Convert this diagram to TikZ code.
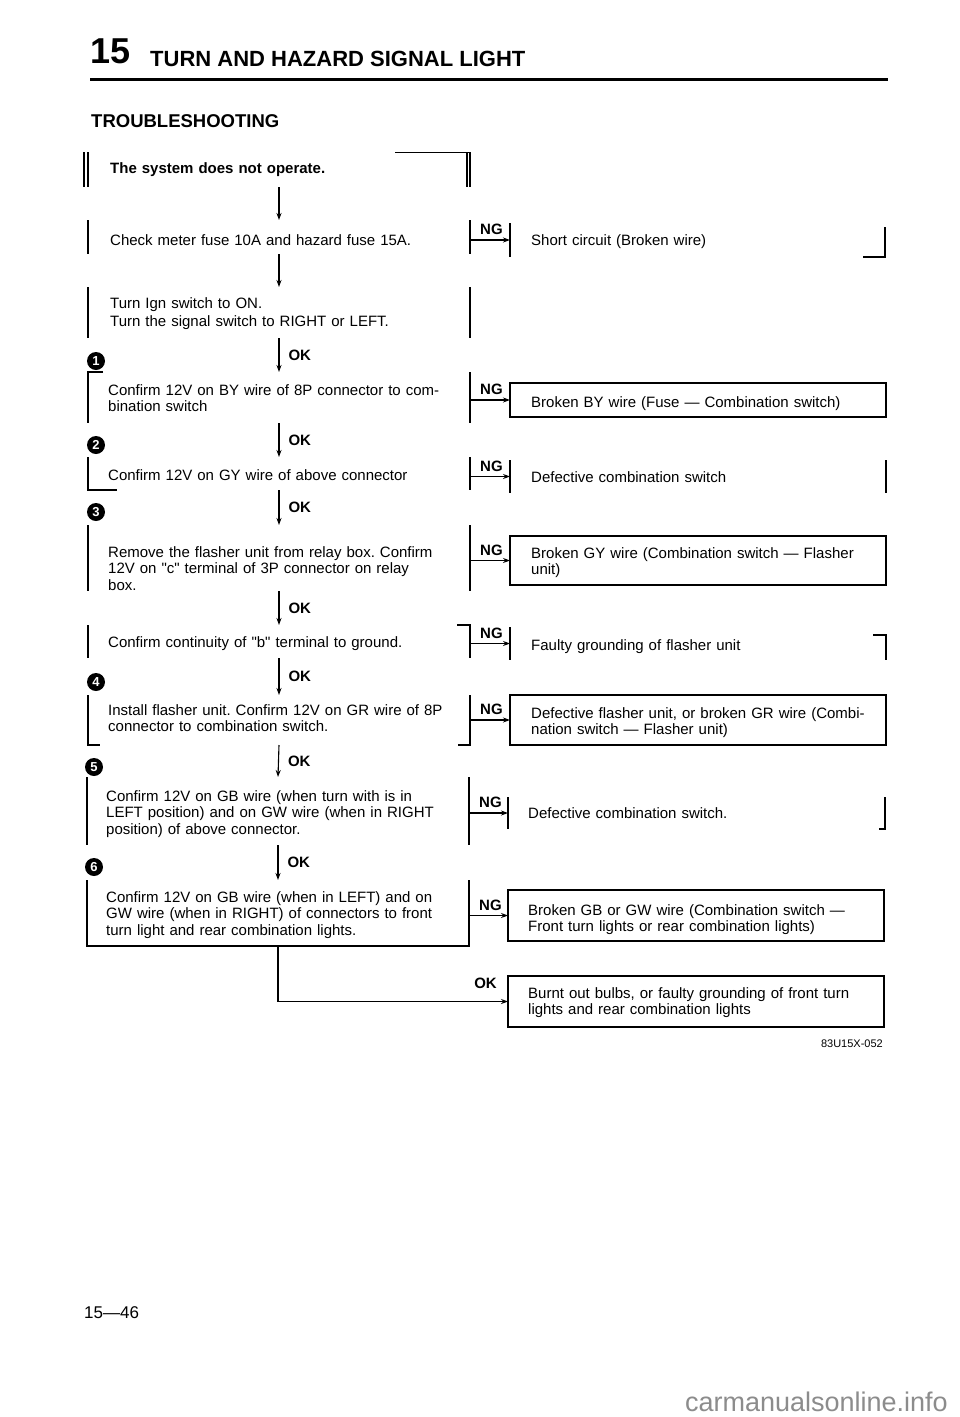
\documentclass[tikz,border=0pt]{standalone}
\usepackage{fontspec}
\setmainfont{Liberation Sans}
\usetikzlibrary{arrows.meta}
\frenchspacing
\begin{document}
\begin{tikzpicture}[x=1pt,y=-1pt,
  area/.style={anchor=north west, inner sep=0, outer sep=0, draw=none},
  txt/.style={anchor=north west, inner sep=0, align=left, text width=375, font=\frenchspacing\fontsize{15}{16.7}\selectfont},
  btxt/.style={txt, font=\bfseries\fontsize{15}{16.7}\selectfont},
  lbl/.style={inner sep=0, font=\bfseries\fontsize{15}{15}\selectfont},
  frm/.style={line width=1.1pt},
  arr/.style={line width=1.1pt, -{Stealth[length=7pt,width=5pt]}},
  num/.style={circle, fill=black, text=white, font=\bfseries\fontsize{13}{13}\selectfont, inner sep=0, minimum size=18}]
\fill[white] (0,0) rectangle (960,1417);
\useasboundingbox (0,0) rectangle (960,1417);

% header
\node[anchor=base west, inner sep=0, font=\bfseries\fontsize{36}{36}\selectfont] (hnum) at (90,63) {15};
\node[anchor=base west, inner sep=0, font=\bfseries\fontsize{22}{22}\selectfont] (htitle) at (150,66) {TURN AND HAZARD SIGNAL LIGHT};
\coordinate (ruleL) at (90,79);
\coordinate (ruleR) at (888,79);
\draw[line width=3pt] (ruleL) -- (ruleR);
\node[anchor=base west, inner sep=0, font=\bfseries\fontsize{18.5}{18.5}\selectfont] (trbl) at (91,127) {TROUBLESHOOTING};

% left box areas
\node[area, minimum width=382, minimum height=35] (b0) at (88,152) {};
\node[area, minimum width=382, minimum height=34] (b1) at (88,220) {};
\node[area, minimum width=382, minimum height=51] (b2) at (88,287) {};
\node[area, minimum width=382, minimum height=51] (b3) at (88,372) {};
\node[area, minimum width=382, minimum height=33] (b4) at (88,457) {};
\node[area, minimum width=382, minimum height=66] (b5) at (88,525) {};
\node[area, minimum width=382, minimum height=33] (b6) at (88,625) {};
\node[area, minimum width=382, minimum height=50] (b7) at (88,695) {};
\node[area, minimum width=382, minimum height=68] (b8) at (87,777) {};
\node[area, minimum width=382, minimum height=66] (b9) at (87,880) {};

% result box areas
\node[area, minimum width=375, minimum height=34] (r1) at (510,223) {};
\node[area, minimum width=376, minimum height=34] (r2) at (510,383) {};
\node[area, minimum width=376, minimum height=33] (r3) at (510,460) {};
\node[area, minimum width=376, minimum height=49] (r4) at (510,536) {};
\node[area, minimum width=376, minimum height=33] (r5) at (510,627) {};
\node[area, minimum width=376, minimum height=50] (r6) at (510,695) {};
\node[area, minimum width=377, minimum height=32] (r7) at (508,797) {};
\node[area, minimum width=376, minimum height=51] (r8) at (508,890) {};
\node[area, minimum width=376, minimum height=51] (r9) at (508,976) {};

% texts of left boxes
\node[btxt] (t0) at (110,173-11.7) {\strut The system does not operate.};
\node[txt] (t1) at (110,245-11.7) {\strut Check meter fuse 10A and hazard fuse 15A.};
\node[txt] (t2) at (110,308-11.7) {\strut Turn Ign switch to ON.\\[1.5pt]Turn the signal switch to RIGHT or LEFT.};
\node[txt] (t3) at (108,395-11.7) {\strut Confirm 12V on BY wire of 8P connector to com-\\bination switch};
\node[txt] (t4) at (108,480-11.7) {\strut Confirm 12V on GY wire of above connector};
\node[txt] (t5) at (108,557-11.7) {\strut Remove the flasher unit from relay box. Confirm\\12V on \textquotedbl c\textquotedbl{} terminal of 3P connector on relay\\box.};
\node[txt] (t6) at (108,647-11.7) {\strut Confirm continuity of \textquotedbl b\textquotedbl{} terminal to ground.};
\node[txt] (t7) at (108,715-11.7) {\strut Install flasher unit. Confirm 12V on GR wire of 8P\\connector to combination switch.};
\node[txt] (t8) at (106,801-11.7) {\strut Confirm 12V on GB wire (when turn with is in\\LEFT position) and on GW wire (when in RIGHT\\position) of above connector.};
\node[txt] (t9) at (106,902-11.7) {\strut Confirm 12V on GB wire (when in LEFT) and on\\GW wire (when in RIGHT) of connectors to front\\turn light and rear combination lights.};

% texts of result boxes
\node[txt] (u1) at (531,245-11.7) {\strut Short circuit (Broken wire)};
\node[txt] (u2) at (531,407-11.7) {\strut Broken BY wire (Fuse — Combination switch)};
\node[txt] (u3) at (531,482-11.7) {\strut Defective combination switch};
\node[txt] (u4) at (531,558-11.7) {\strut Broken GY wire (Combination switch — Flasher\\unit)};
\node[txt] (u5) at (531,650-11.7) {\strut Faulty grounding of flasher unit};
\node[txt] (u6) at (531,718-11.7) {\strut Defective flasher unit, or broken GR wire (Combi-\\nation switch — Flasher unit)};
\node[txt] (u7) at (528,818-11.7) {\strut Defective combination switch.};
\node[txt] (u8) at (528,915-11.7) {\strut Broken GB or GW wire (Combination switch —\\Front turn lights or rear combination lights)};
\node[txt] (u9) at (528,998-11.7) {\strut Burnt out bulbs, or faulty grounding of front turn\\lights and rear combination lights};

% frames of left boxes
\draw[frm] (b0.north west) -- (b0.south west) ([xshift=-4]b0.north west) -- ([xshift=-4]b0.south west)
           (b0.north east) -- (b0.south east) ([xshift=-3]b0.north east) -- ([xshift=-3]b0.south east);
\draw[line width=0.6pt] ([xshift=-75]b0.north east) -- (b0.north east);
\draw[frm] (b1.north west) -- (b1.south west) (b1.north east) -- (b1.south east);
\draw[frm] (b2.north west) -- (b2.south west) (b2.north east) -- (b2.south east);
\draw[frm] ([xshift=15]b3.north west) -- (b3.north west) -- (b3.south west) (b3.north east) -- (b3.south east);
\draw[frm] (b4.north west) -- (b4.south west) -- ++(29,0) (b4.north east) -- (b4.south east);
\draw[frm] (b5.north west) -- (b5.south west) (b5.north east) -- (b5.south east);
\draw[frm] (b6.north west) -- (b6.south west) ([xshift=-13]b6.north east) -- (b6.north east) -- (b6.south east);
\draw[frm] (b7.north west) -- (b7.south west) -- ++(12,0) (b7.north east) -- (b7.south east) -- ++(-12,0);
\draw[frm] (b8.north west) -- (b8.south west) (b8.north east) -- (b8.south east);
\draw[frm] (b9.north west) -- (b9.south west) -- (b9.south east) -- (b9.north east);

% frames of result boxes
\draw[frm] (r1.north west) -- (r1.south west) ([yshift=-4]r1.north east) -- (r1.south east) -- ++(-22,0);
\draw[frm] (r2.north west) rectangle (r2.south east);
\draw[frm] (r3.north west) -- (r3.south west) (r3.north east) -- (r3.south east);
\draw[frm] (r4.north west) rectangle (r4.south east);
\draw[frm] (r5.north west) -- (r5.south west) ([xshift=-13,yshift=-8]r5.north east) -- ([yshift=-8]r5.north east) -- (r5.south east);
\draw[frm] (r6.north west) rectangle (r6.south east);
\draw[frm] (r7.north west) -- (r7.south west) (r7.north east) -- (r7.south east) -- ++(-6,0);
\draw[frm] (r8.north west) rectangle (r8.south east);
\draw[frm] (r9.north west) rectangle (r9.south east);

% numbered circles
\node[num] (n1) at ([xshift=8,yshift=11]b3.north west) {1};
\node[num] (n2) at ([xshift=8,yshift=12]b4.north west) {2};
\node[num] (n3) at ([xshift=8,yshift=13]b5.north west) {3};
\node[num] (n4) at ([xshift=8,yshift=13]b7.north west) {4};
\node[num] (n5) at ([xshift=7,yshift=10]b8.north west) {5};
\node[num] (n6) at ([xshift=7,yshift=13]b9.north west) {6};

% vertical flow arrows
\draw[arr] (b0.south) -- (b1.north);
\draw[arr] (b1.south) -- (b2.north);
\draw[arr] (b2.south) -- node[lbl, anchor=west, xshift=9] (ok1) {OK} (b3.north);
\draw[arr] (b3.south) -- node[lbl, anchor=west, xshift=9] (ok2) {OK} (b4.north);
\draw[arr] (b4.south) -- node[lbl, anchor=west, xshift=9] (ok3) {OK} (b5.north);
\draw[arr] (b5.south) -- node[lbl, anchor=west, xshift=9] (ok4) {OK} (b6.north);
\draw[arr] (b6.south) -- node[lbl, anchor=west, xshift=9] (ok5) {OK} (b7.north);
\draw[arr] (b7.south) -- node[lbl, anchor=west, xshift=9] (ok6) {OK} (b8.north);
\draw[arr] (b8.south) -- node[lbl, anchor=west, xshift=9] (ok7) {OK} (b9.north);

% NG arrows
\foreach \b/\r in {b1/r1,b3/r2,b4/r3,b5/r4,b6/r5,b7/r6,b8/r7,b9/r8}{
  \draw[arr] (\r.west -| \b.east) -- (\r.west);
  \node[lbl, anchor=south west, xshift=10, yshift=5] (ng\r) at (\r.west -| \b.east) {NG};
}

% final OK path
\draw[arr] (b9.south) |- (r9.west);
\node[lbl, anchor=south east, xshift=-11, yshift=13] (okend) at (r9.west) {OK};

% codes and footer
\node[anchor=base east, inner sep=0, font=\fontsize{11}{11}\selectfont] (code) at (883,1047) {83U15X-052};
\node[anchor=base west, inner sep=0, font=\fontsize{17}{17}\selectfont] (page) at (84,1318) {15—46};
\node[anchor=base east, inner sep=0, text=black!45, font=\fontsize{27}{27}\selectfont] (wm) at (948,1411) {carmanualsonline.info};
\end{tikzpicture}
\end{document}
